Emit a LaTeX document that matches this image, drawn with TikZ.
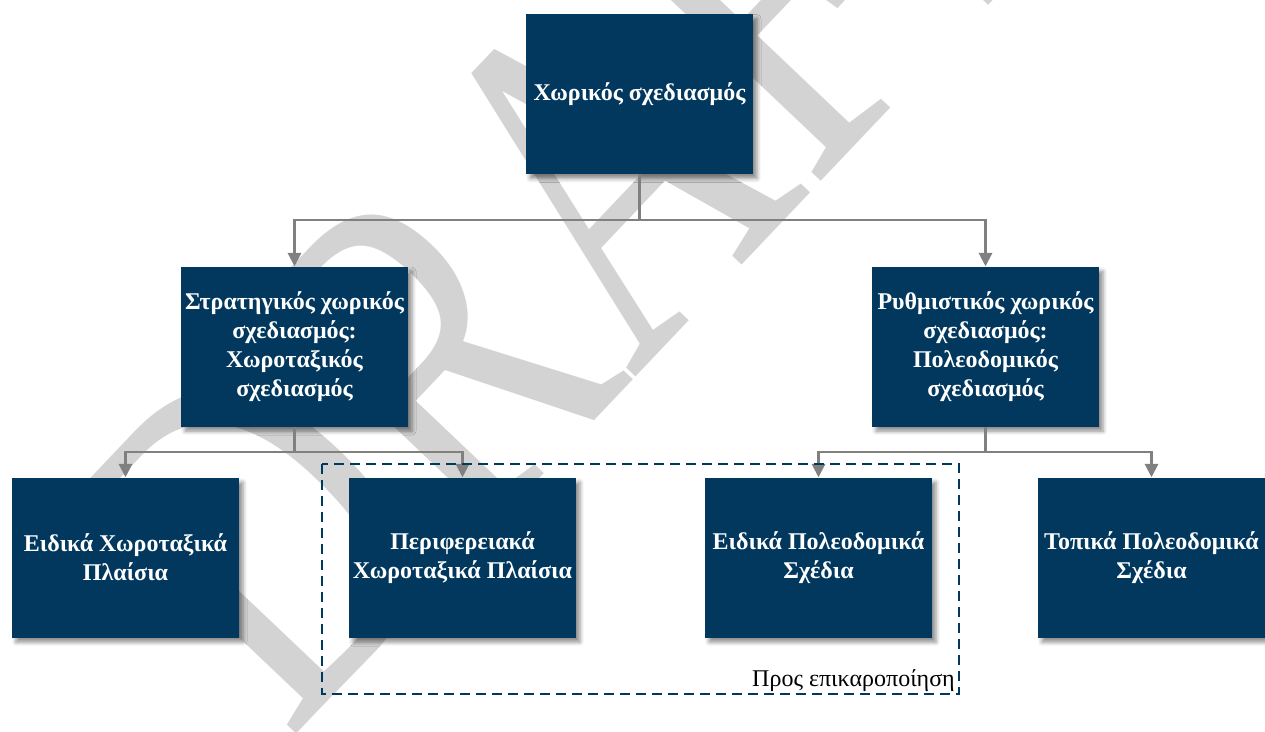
\documentclass[tikz,border=0pt]{standalone}
\usepackage{fontspec}
\setmainfont{Liberation Serif}
\usetikzlibrary{arrows.meta, shadows.blur}
\definecolor{planBlue}{RGB}{3,56,94}
\definecolor{linkGray}{RGB}{128,128,128}
\definecolor{markGray}{RGB}{211,211,211}

\begin{document}
\begin{tikzpicture}[x=0.75pt, y=-0.75pt,
  plan/.style={fill=planBlue, text=white, align=center, inner sep=0pt,
    minimum width=170.25pt, minimum height=120pt,
    font=\bfseries\fontsize{18}{21.75}\selectfont,
    blur shadow={shadow xshift=3pt, shadow yshift=-3.5pt, shadow blur radius=3pt, shadow opacity=45}},
  link/.style={draw=linkGray, line width=1.6pt},
  linkarrow/.style={link, -{Triangle[width=10pt,length=10pt]}}]
\useasboundingbox (0,0) rectangle (1265,732);
% watermark
\begin{scope}
\clip (0,0) rectangle (1265,732);
\begin{scope}[shift={(289,742)}, rotate=46.5, yscale=1.38]
\node[transform shape, anchor=base west, inner sep=0pt, text=markGray,
  font=\fontsize{270}{270}\selectfont] (draft) at (0,0) {DRAFT};
\end{scope}
\end{scope}
% boxes
\node[plan] (space) at (639.5,94) {Χωρικός σχεδιασμός};
\node[plan] (strat) at (294.5,346.5) {Στρατηγικός χωρικός\\σχεδιασμός:\\Χωροταξικός\\σχεδιασμός};
\node[plan] (regul) at (985.5,346.5) {Ρυθμιστικός χωρικός\\σχεδιασμός:\\Πολεοδομικός\\σχεδιασμός};
\node[plan] (esxp) at (125.5,557.5) {Ειδικά Χωροταξικά\\Πλαίσια};
\node[plan] (pesxp) at (462.5,557.5) {Περιφερειακά\\Χωροταξικά Πλαίσια};
\node[plan] (eps) at (818.5,557.5) {Ειδικά Πολεοδομικά\\Σχέδια};
\node[plan] (tps) at (1151.5,557.5) {Τοπικά Πολεοδομικά\\Σχέδια};
% connectors
\coordinate (j1) at (639.5,220);
\coordinate (j2) at (294.5,452);
\coordinate (j3) at (985.5,452);
\draw[link] (space) -- (j1);
\draw[linkarrow] (j1) -| (strat);
\draw[linkarrow] (j1) -| (regul);
\draw[link] (strat) -- (j2);
\draw[linkarrow] (j2) -| (esxp);
\draw[linkarrow] (j2) -| (pesxp);
\draw[link] (regul) -- (j3);
\draw[linkarrow] (j3) -| (eps);
\draw[linkarrow] (j3) -| (tps);
% dashed frame
\draw[planBlue, line width=1.8pt, dash pattern=on 7.5pt off 4.5pt] (322,464) rectangle (959,694);
\node[anchor=base east, inner sep=0pt, font=\fontsize{18}{21}\selectfont] (upd) at (955,686) {Προς επικαροποίηση};
\end{tikzpicture}
\end{document}
